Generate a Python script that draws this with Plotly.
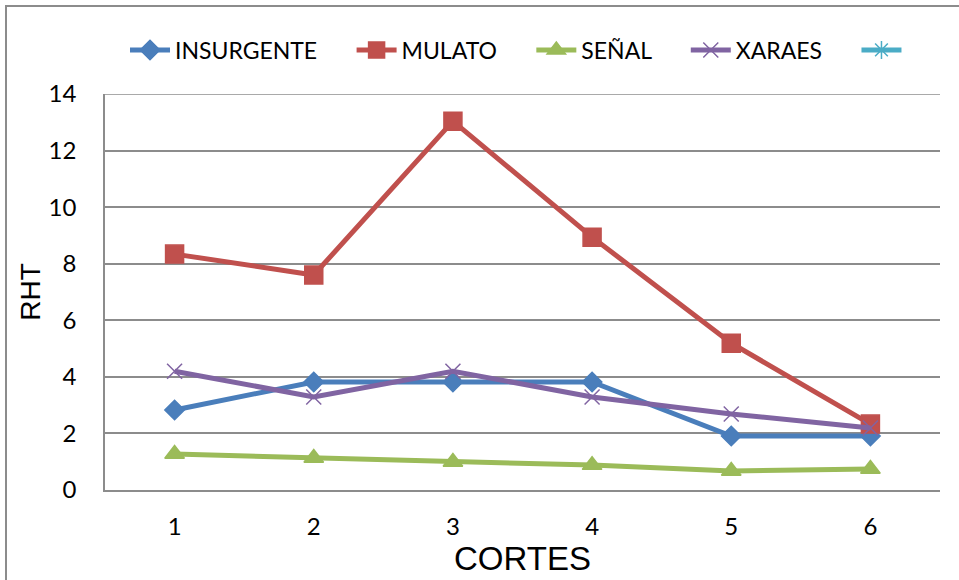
import plotly.graph_objects as go

# Cut number (x) and RHT values per cultivar
cortes = [1, 2, 3, 4, 5, 6]
insurgente = [2.83, 3.82, 3.82, 3.82, 1.91, 1.91]
mulato = [8.34, 7.60, 13.04, 8.94, 5.19, 2.33]
senal = [1.27, 1.13, 0.99, 0.88, 0.67, 0.74]
xaraes = [4.20, 3.29, 4.20, 3.29, 2.69, 2.19]

y_ticks = [0, 2, 4, 6, 8, 10, 12, 14]

series = [
    ("INSURGENTE", insurgente, "#4A7EBB", "diamond", 15),
    ("MULATO", mulato, "#C0504D", "square", 18),
    ("SEÑAL", senal, "#9BBB59", "triangle-up", 17),
    ("XARAES", xaraes, "#8064A2", "x-thin-open", 15),
]

PAD = "\u00a0" * 5  # spacing after each legend label

fig = go.Figure()
for name, vals, color, sym, size in series:
    fig.add_trace(go.Scatter(
        x=cortes, y=vals, name=name + PAD, mode="lines+markers",
        line=dict(color=color, width=5),
        marker=dict(symbol=sym, size=size, color=color,
                    line=dict(color=color, width=1.5)),
    ))

# Fifth series has no values, only a legend entry
fig.add_trace(go.Scatter(
    x=[None], y=[None], name="\u00a0", mode="lines+markers",
    line=dict(color="#4BACC6", width=5),
    marker=dict(symbol="asterisk-open", size=15, color="#4BACC6",
                line=dict(color="#4BACC6", width=1.5)),
))

L, R, T, B = 105, 19, 94, 90
W, H = 959, 580
pw, ph = W - L - R, H - T - B

fig.update_layout(
    width=W, height=H,
    margin=dict(l=L, r=R, t=T, b=B),
    paper_bgcolor="white", plot_bgcolor="white",
    font=dict(family="Lato, Open Sans, sans-serif", color="black"),
    showlegend=True,
    legend=dict(
        orientation="h", x=(125 - L) / pw, xanchor="left",
        y=1 + 44 / ph, yanchor="middle",
        font=dict(size=23, family="Lato, sans-serif"),
        itemwidth=40, bgcolor="rgba(0,0,0,0)",
    ),
    xaxis=dict(
        range=[0.5, 6.5], tickvals=cortes, ticktext=[str(c) for c in cortes],
        showgrid=False, zeroline=False,
        showline=True, linecolor="#8C8C8C", linewidth=1.5,
        ticks="", tickfont=dict(size=24), ticklabelstandoff=14,
        title=dict(text="CORTES", font=dict(size=33, family="Liberation Sans, Arial"),
                   standoff=6),
    ),
    yaxis=dict(
        range=[0, 14], tickvals=y_ticks,
        showgrid=True, gridcolor="#8C8C8C", gridwidth=1.5,
        zeroline=False, showline=True, linecolor="#8C8C8C", linewidth=1.5,
        ticks="", tickfont=dict(size=24), ticklabelstandoff=22,
        title=dict(text="RHT", font=dict(size=28, family="Liberation Sans, Arial"),
                   standoff=0),
    ),
)

# Top gridline at 14 across the plot area
fig.add_shape(type="line", xref="paper", yref="y", x0=0, x1=1, y0=14, y1=14,
              line=dict(color="#8C8C8C", width=1.5), layer="below")

# Chart frame (left and top edges visible)
fig.add_shape(type="rect", xref="paper", yref="paper",
              x0=(6 - L) / pw, x1=(W + 10 - L) / pw,
              y0=-(B + 10) / ph, y1=1 + (T - 6) / ph,
              line=dict(color="#8C8C8C", width=2), layer="below")

fig.write_html("out.html")
